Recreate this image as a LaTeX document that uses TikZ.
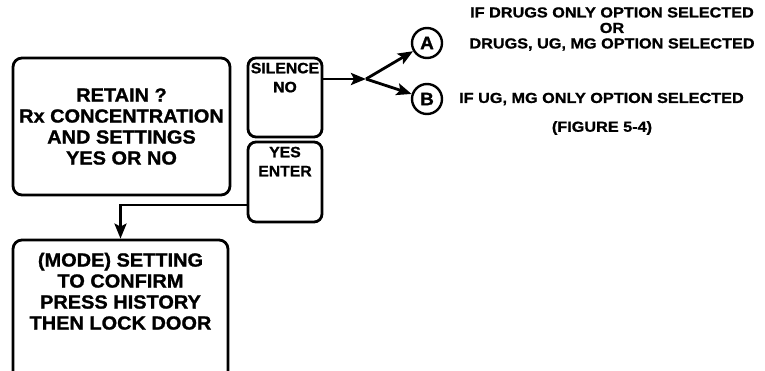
\documentclass[tikz,border=0pt]{standalone}
\usepackage{fontspec}
\setmainfont{Liberation Sans}[FakeStretch=1.05, FakeBold=1.2]
\newfontfamily\widefont{Liberation Sans}[FakeStretch=1.12, FakeBold=1.2]
\usetikzlibrary{arrows.meta}

\begin{document}
\begin{tikzpicture}[x=1pt,y=-1pt,
  box/.style={draw, line width=2.8pt, rounded corners=9pt, inner sep=0pt},
  boxtext/.style={align=center, inner sep=0pt, font=\bfseries\fontsize{19}{21}\selectfont},
  keytext/.style={align=center, inner sep=0pt, font=\bfseries\fontsize{15}{19}\selectfont},
  note/.style={align=center, inner sep=0pt, font=\widefont\bfseries\fontsize{14.5}{15.5}\selectfont},
  marker/.style={draw, circle, line width=2.4pt, minimum size=30pt, inner sep=0pt,
    font=\bfseries\fontsize{18}{18}\selectfont},
  flow/.style={line width=2.8pt, -{Stealth[length=15pt, width=12pt, inset=3pt]}}]

\useasboundingbox (0,0) rectangle (765,370);
\clip (0,0) rectangle (765,370);

% left column: question box and follow-up box
\node[box, minimum width=217pt, minimum height=137pt] (retain) at (121.5,126.5) {};
\node[boxtext] (retaintxt) at (retain.center)
  {RETAIN ?\\Rx CONCENTRATION\\AND SETTINGS\\YES OR NO};

\node[box, minimum width=215pt, minimum height=160pt] (mode) at (120.5,320) {};
\node[boxtext, anchor=north] (modetxt) at ([yshift=-14pt]mode.north)
  {(MODE) SETTING\\TO CONFIRM\\PRESS HISTORY\\THEN LOCK DOOR};

% key boxes
\node[box, rounded corners=8pt, minimum width=74pt, minimum height=79pt] (silence) at (285,97.5) {};
\node[keytext, anchor=north] (silencetxt) at ([yshift=-6pt]silence.north) {SILENCE\\NO};

\node[box, rounded corners=8pt, minimum width=74pt, minimum height=80pt] (yes) at (285,182) {};
\node[keytext, anchor=north] (yestxt) at ([yshift=-6pt]yes.north) {YES\\ENTER};

% branch markers
\node[marker] (A) at (427,43) {A};
\node[marker] (B) at (427,99) {B};
\coordinate (fork) at (366,79);

% notes
\node[note] (notea) at (612,29)
  {IF DRUGS ONLY OPTION SELECTED\\OR\\DRUGS, UG, MG OPTION SELECTED};
\node[note, anchor=west] (noteb) at (459,99) {IF UG, MG ONLY OPTION SELECTED};
\node[note] (fig) at (602,128) {(FIGURE 5-4)};

% connectors
\draw[flow] (silence.east |- fork) -- (fork);
\draw[flow] (fork) -- (A);
\draw[flow] (fork) -- (B);
\draw[flow, rounded corners=0pt] (yes.west |- 0,205) -| (mode.north);
\end{tikzpicture}
\end{document}
